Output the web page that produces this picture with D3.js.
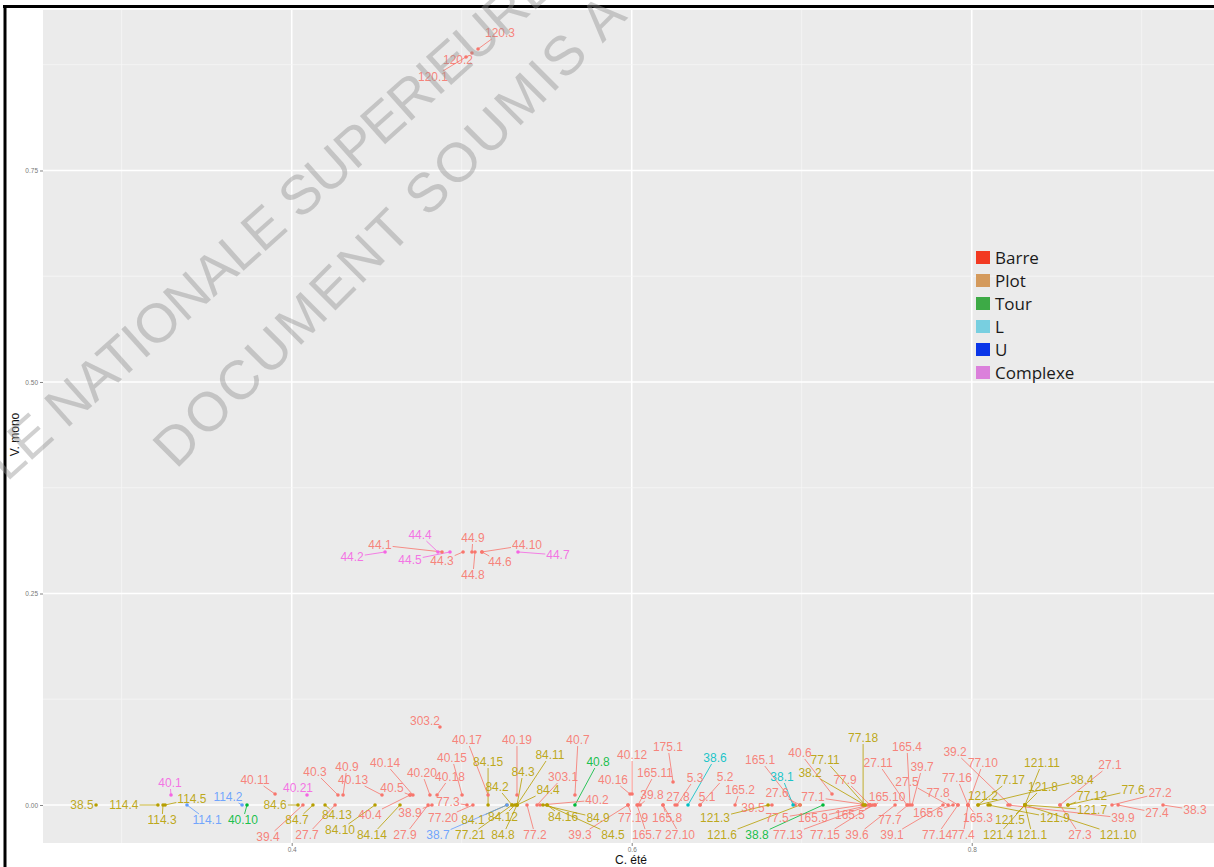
<!DOCTYPE html>
<html><head><meta charset="utf-8">
<script src="https://cdnjs.cloudflare.com/ajax/libs/d3/7.8.5/d3.min.js"></script>
<style>body{margin:0;background:#fff}svg{display:block}</style>
</head><body><svg id="chart" width="1214" height="867"></svg>
<script>
// ---------- data ----------
const categories = ["Barre","Plot","Tour","L","U","Complexe"];
const seriesColors = ["#F8766D","#B79F00","#00BA38","#00BFC4","#619CFF","#F564E3"];
const legendColors = ["#F23A22","#D49A5C","#3DAA46","#78CFE0","#0A35E8","#DB80DB"];
const xTicks = [0.3,0.4,0.5,0.6,0.7,0.8,0.9];
const xTickLabels = ["","0.4","","0.6","","0.8",""];
const yTicks = [0,0.125,0.25,0.375,0.5,0.625,0.75,0.875];
const yTickLabels = ["0.00","","0.25","","0.50","","0.75",""];
const xTitle = "C. été", yTitle = "V. mono";
const watermark = ["ECOLE NATIONALE SUPERIEURE", "DOCUMENT SOUMIS A"];

const pointLabels = ["38.5","114.4","114.3","114.5","40.1","114.1","114.2","40.10","40.11","40.21",
 "84.6","39.4","84.7","27.7","84.13","40.3","40.9","40.13","84.10","40.4",
 "84.14","40.14","40.5","38.9","27.9","40.20","40.18","40.15","77.3","77.20",
 "40.17","84.15","84.2","84.1","38.7","77.21","84.12","40.19","84.3","84.11",
 "84.4","84.8","77.2","303.1","84.16","40.7","40.8","40.2","84.9","39.3",
 "84.5","40.16","40.12","165.11","39.8","77.19","165.7","165.8","27.10","175.1",
 "5.3","38.6","5.2","5.1","27.8","165.2","39.5","121.3","121.6","165.1",
 "38.1","27.6","77.5","38.8","77.13","77.15","165.9","165.5","77.1","40.6",
 "77.11","38.2","77.9","77.18","27.11","165.10","39.6","39.1","77.7","165.4",
 "39.7","27.5","165.6","77.14","77.8","77.4","77.16","165.3","77.10","39.2",
 "77.17","121.2","121.5","121.4","121.1","121.11","121.8","121.9","121.7","121.10",
 "38.4","27.1","39.9","27.3","77.12","77.6","27.2","27.4","38.3",
 "44.2","44.1","44.4","44.5","44.3","44.9","44.8","44.6","44.10","44.7",
 "120.1","120.2","120.3","303.2"];
const pointGroup = ["Plot","Plot","Plot","Plot","Complexe","U","U","Tour","Barre","Complexe",
 "Plot","Barre","Plot","Barre","Plot","Barre","Barre","Barre","Plot","Barre",
 "Plot","Barre","Barre","Barre","Barre","Barre","Barre","Barre","Barre","Barre",
 "Barre","Plot","Plot","Plot","U","Plot","Plot","Barre","Plot","Plot",
 "Plot","Plot","Barre","Barre","Plot","Barre","Tour","Barre","Plot","Barre",
 "Plot","Barre","Barre","Barre","Barre","Barre","Barre","Barre","Barre","Barre",
 "Barre","L","Barre","Barre","Barre","Barre","Barre","Plot","Plot","Barre",
 "L","Barre","Barre","Tour","Barre","Barre","Barre","Barre","Barre","Barre",
 "Plot","Plot","Barre","Plot","Barre","Barre","Barre","Barre","Barre","Barre",
 "Barre","Barre","Barre","Barre","Barre","Barre","Barre","Barre","Barre","Barre",
 "Plot","Plot","Plot","Plot","Plot","Plot","Plot","Plot","Plot","Plot",
 "Plot","Barre","Barre","Barre","Plot","Plot","Barre","Barre","Barre",
 "Complexe","Barre","Complexe","Complexe","Barre","Barre","Barre","Barre","Barre","Complexe",
 "Barre","Barre","Barre","Barre"];
// C. été (x)
const cEte = [0.2849,0.3213,0.3243,0.3255,0.3290,0.3384,0.3708,0.3737,0.3902,0.4090,
 0.4037,0.4066,0.4125,0.4255,0.4196,0.4272,0.4302,0.4531,0.4490,0.4696,
 0.4637,0.4713,0.4696,0.4825,0.4802,0.4813,0.4855,0.5002,0.5031,0.5066,
 0.5155,0.5155,0.5296,0.5266,0.5266,0.5296,0.5313,0.5325,0.5325,0.5325,
 0.5325,0.5325,0.5384,0.5443,0.5502,0.5666,0.5666,0.5461,0.5478,0.5978,
 0.5502,0.5990,0.6002,0.6037,0.6049,0.5978,0.6031,0.6184,0.6184,0.6243,
 0.6266,0.6331,0.6402,0.6402,0.6255,0.6608,0.6825,0.6802,0.6990,0.6961,
 0.6949,0.6990,0.7355,0.7125,0.7402,0.7419,0.7402,0.7431,0.7390,0.7178,
 0.7372,0.7372,0.7402,0.7361,0.7619,0.7431,0.7549,0.7831,0.7625,0.7637,
 0.7649,0.7861,0.7890,0.7919,0.7919,0.7978,0.7978,0.7978,0.7978,0.8225,
 0.8037,0.8108,0.8313,0.8313,0.8313,0.8313,0.8313,0.8096,0.8313,0.8313,
 0.8037,0.8519,0.8213,0.8519,0.8566,0.8566,0.8825,0.8861,0.9125,
 0.4549,0.4884,0.4860,0.4931,0.5008,0.5060,0.5078,0.5119,0.5119,0.5331,
 0.5025,0.5060,0.5096,0.4872];
// V. mono (y)
const vMono = [0,0,0,0,0.0118,0,0,0,0.0130,0.0118,
 0,0,0,0,0,0.0118,0.0118,0.0118,0,0.0118,
 0,0.0118,0.0118,0,0,0.0118,0.0118,0.0118,0,0,
 0.0118,0,0,0,0,0,0,0.0118,0,0,
 0,0,0,0,0,0.0118,0,0,0,0,
 0,0.0130,0.0130,0,0,0,0,0,0,0.0272,
 0,0,0,0,0,0,0,0,0,0,
 0,0,0,0,0,0,0,0,0,0.0130,
 0,0,0,0,0,0,0,0,0,0,
 0,0,0,0,0,0,0,0,0,0,
 0,0,0,0,0,0,0,0,0,0,
 0,0,0,0,0,0,0,0,0,
 0.2991,0.2991,0.2991,0.2991,0.2991,0.2991,0.2991,0.2991,0.2991,0.2991,
 0.8842,0.8889,0.8936,0.0922];
// repelled label anchor (data units)
const labelCEte = [0.2766,0.3013,0.3237,0.3413,0.3284,0.3502,0.3625,0.3713,0.3784,0.4037,
 0.3902,0.3860,0.4031,0.4090,0.4266,0.4137,0.4325,0.4361,0.4284,0.4460,
 0.4472,0.4549,0.4590,0.4696,0.4666,0.4766,0.4931,0.4943,0.4919,0.4890,
 0.5031,0.5155,0.5208,0.5066,0.4860,0.5049,0.5243,0.5325,0.5361,0.5519,
 0.5508,0.5243,0.5431,0.5596,0.5596,0.5684,0.5802,0.5796,0.5802,0.5696,
 0.5890,0.5890,0.6002,0.6137,0.6119,0.6008,0.6090,0.6208,0.6284,0.6213,
 0.6372,0.6490,0.6549,0.6443,0.6272,0.6637,0.6713,0.6490,0.6531,0.6755,
 0.6884,0.6855,0.6855,0.6737,0.6919,0.7137,0.7066,0.7284,0.7066,0.6990,
 0.7137,0.7049,0.7255,0.7361,0.7449,0.7502,0.7325,0.7531,0.7519,0.7619,
 0.7708,0.7619,0.7743,0.7796,0.7802,0.7949,0.7913,0.8037,0.8066,0.7902,
 0.8225,0.8066,0.8225,0.8155,0.8355,0.8413,0.8419,0.8490,0.8708,0.8861,
 0.8649,0.8813,0.8890,0.8637,0.8708,0.8949,0.9108,0.9090,0.9313,
 0.4355,0.4519,0.4755,0.4696,0.4884,0.5066,0.5066,0.5225,0.5384,0.5566,
 0.4831,0.4978,0.5225,0.4784];
const labelVMono = [0,0,-0.0177,0.0071,0.0260,-0.0177,0.0095,-0.0177,0.0296,0.0201,
 0,-0.0378,-0.0177,-0.0355,-0.0118,0.0390,0.0449,0.0296,-0.0296,-0.0118,
 -0.0355,0.0496,0.0201,-0.0095,-0.0355,0.0378,0.0331,0.0556,0.0035,-0.0154,
 0.0768,0.0508,0.0213,-0.0177,-0.0355,-0.0355,-0.0142,0.0768,0.0390,0.0591,
 0.0177,-0.0355,-0.0355,0.0331,-0.0142,0.0768,0.0508,0.0059,-0.0154,-0.0355,
 -0.0355,0.0296,0.0591,0.0378,0.0118,-0.0154,-0.0355,-0.0154,-0.0355,0.0686,
 0.0319,0.0556,0.0331,0.0095,0.0095,0.0177,-0.0035,-0.0154,-0.0355,0.0532,
 0.0331,0.0142,-0.0154,-0.0355,-0.0355,-0.0355,-0.0154,-0.0118,0.0095,0.0615,
 0.0532,0.0378,0.0296,0.0792,0.0496,0.0095,-0.0355,-0.0355,-0.0177,0.0686,
 0.0449,0.0272,-0.0095,-0.0355,0.0142,-0.0355,0.0319,-0.0154,0.0496,0.0626,
 0.0296,0.0106,-0.0177,-0.0355,-0.0355,0.0496,0.0213,-0.0154,-0.0059,-0.0355,
 0.0296,0.0473,-0.0154,-0.0355,0.0106,0.0177,0.0142,-0.0095,-0.0059,
 0.2931,0.3073,0.3191,0.2896,0.2884,0.3156,0.2719,0.2872,0.3073,0.2955,
 0.8605,0.8806,0.9125,0.0993];

// ---------- layout ----------
const W = 1214, H = 867;
const panel = {left: 43, right: 1214, top: 10, bottom: 843};
const svg = d3.select("#chart");
const x = d3.scaleLinear().domain([0.2537, 0.9425]).range([panel.left, panel.right]);
const y = d3.scaleLinear().domain([-0.0449, 0.9397]).range([panel.bottom, panel.top]);
const color = d3.scaleOrdinal().domain(categories).range(seriesColors);

svg.append("rect").attr("width", W).attr("height", H).attr("fill", "#fff");
// outer frame (top + left)
svg.append("line").attr("x1", 3).attr("x2", W).attr("y1", 6.5).attr("y2", 6.5).attr("stroke", "#000").attr("stroke-width", 3);
svg.append("line").attr("x1", 5).attr("x2", 5).attr("y1", 5).attr("y2", H).attr("stroke", "#000").attr("stroke-width", 3);

svg.append("rect").attr("x", panel.left).attr("y", panel.top)
  .attr("width", panel.right - panel.left).attr("height", panel.bottom - panel.top).attr("fill", "#EBEBEB");

const grid = svg.append("g");
xTicks.forEach((t, i) => {
  const major = xTickLabels[i] !== "";
  grid.append("line").attr("x1", x(t)).attr("x2", x(t)).attr("y1", panel.top).attr("y2", panel.bottom)
    .attr("stroke", major ? "#fff" : "#f6f6f6").attr("stroke-width", major ? 1.6 : 0.8);
});
yTicks.forEach((t, i) => {
  const major = yTickLabels[i] !== "";
  grid.append("line").attr("x1", panel.left).attr("x2", panel.right).attr("y1", y(t)).attr("y2", y(t))
    .attr("stroke", major ? "#fff" : "#f6f6f6").attr("stroke-width", major ? 1.6 : 0.8);
});

// axes
const xAxis = d3.axisBottom(x).tickValues(xTicks.filter((t, i) => xTickLabels[i] !== ""))
  .tickFormat(d => xTickLabels[xTicks.indexOf(d)]).tickSize(3).tickPadding(1);
const gx = svg.append("g").attr("transform", `translate(0,${panel.bottom})`).call(xAxis);
const yAxis = d3.axisLeft(y).tickValues(yTicks.filter((t, i) => yTickLabels[i] !== ""))
  .tickFormat(d => yTickLabels[yTicks.indexOf(d)]).tickSize(3).tickPadding(2);
const gy = svg.append("g").attr("transform", `translate(${panel.left},0)`).call(yAxis);
[gx, gy].forEach(g => {
  g.select(".domain").remove();
  g.selectAll(".tick line").attr("stroke", "#666").attr("stroke-width", 0.8);
  g.selectAll(".tick text").attr("fill", "#777").attr("font-size", 6.5).attr("font-family", "Liberation Sans, Arial, sans-serif");
});
svg.append("text").attr("x", 631).attr("y", 864)
  .attr("text-anchor", "middle").attr("font-family", "Liberation Sans, Arial, sans-serif").attr("font-size", 12).attr("fill", "#111").text(xTitle);
svg.append("text").attr("transform", `translate(19,${(panel.top + panel.bottom) / 2 + 8}) rotate(-90)`)
  .attr("text-anchor", "middle").attr("font-family", "Liberation Sans, Arial, sans-serif").attr("font-size", 12).attr("fill", "#111").text(yTitle);

// data join
const rows = pointLabels.map((lab, i) => ({lab, grp: pointGroup[i], cx: x(cEte[i]), cy: y(vMono[i]), lx: x(labelCEte[i]), ly: y(labelVMono[i])}));
const segG = svg.append("g"), ptG = svg.append("g"), lbG = svg.append("g");
const labels = lbG.selectAll("text").data(rows).join("text")
  .attr("x", d => d.lx).attr("y", d => d.ly).attr("dy", "0.35em")
  .attr("text-anchor", "middle").attr("font-family", "Liberation Sans, Arial, sans-serif").attr("font-size", 12)
  .attr("fill", d => color(d.grp)).attr("fill-opacity", 0.9).text(d => d.lab);
labels.each(function(d) { const w = this.getComputedTextLength(); d.hw = w / 2 + 1; d.hh = 6; });
rows.forEach(d => {
  const dx = d.cx - d.lx, dy = d.cy - d.ly;
  let t = 1;
  if (dx !== 0) t = Math.min(t, d.hw / Math.abs(dx));
  if (dy !== 0) t = Math.min(t, d.hh / Math.abs(dy));
  d.sx = d.lx + dx * t; d.sy = d.ly + dy * t;
  d.seg = Math.hypot(d.cx - d.sx, d.cy - d.sy) > 3;
});
segG.selectAll("line").data(rows.filter(d => d.seg)).join("line")
  .attr("x1", d => d.sx).attr("y1", d => d.sy).attr("x2", d => d.cx).attr("y2", d => d.cy)
  .attr("stroke", d => color(d.grp)).attr("stroke-width", 0.9).attr("stroke-opacity", 0.9);
ptG.selectAll("circle").data(rows).join("circle")
  .attr("cx", d => d.cx).attr("cy", d => d.cy).attr("r", 1.8).attr("fill", d => color(d.grp));

// legend
const lg = svg.append("g").attr("transform", "translate(976,251)");
categories.forEach((c, i) => {
  lg.append("rect").attr("x", 0).attr("y", i * 23).attr("width", 14).attr("height", 13).attr("fill", legendColors[i]);
  lg.append("text").attr("x", 19).attr("y", i * 23 + 12.5).attr("font-family", "Open Sans, sans-serif").attr("font-size", 17)
    .attr("fill", "#1a1a1a").text(c);
});

// watermark
const wm = svg.append("g").attr("pointer-events", "none");
wm.append("text").attr("transform", "translate(-80,560) rotate(-41.8)")
  .attr("font-family", "Liberation Sans, Arial, sans-serif").attr("font-size", 55)
  .attr("textLength", 858).attr("lengthAdjust", "spacing")
  .attr("fill", "#909090").attr("fill-opacity", 0.42).text(watermark[0]);
wm.append("text").attr("transform", "translate(176,470) rotate(-45)")
  .attr("font-family", "Liberation Sans, Arial, sans-serif").attr("font-size", 55)
  .attr("textLength", 640).attr("lengthAdjust", "spacing")
  .attr("fill", "#909090").attr("fill-opacity", 0.42).text(watermark[1]);
</script></body></html>
